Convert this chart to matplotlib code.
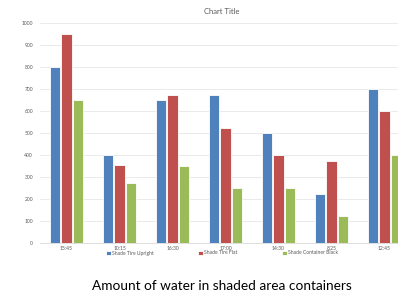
import matplotlib.pyplot as plt
import numpy as np

# data
times = ["15:45", "10:15", "16:30", "17:00", "14:30", "8:25", "12:45"]
tire_upright = [800, 400, 650, 675, 500, 225, 700]
tire_flat = [950, 355, 675, 525, 400, 375, 600]
container_black = [650, 275, 350, 250, 250, 125, 400]

series = ["Shade Tire Upright", "Shade Tire Flat", "Shade Container Black"]
colors = ["#4F81BD", "#C0504D", "#9BBB59"]

plt.rcParams['font.family'] = ['Lato', 'DejaVu Sans']

fig = plt.figure(figsize=(3.98, 2.94), dpi=100)
ax = fig.add_axes([40/398, 1-243/294, 371/398, 220/294])

x = np.arange(len(times))
w = 0.19
off = 0.215
for i, vals in enumerate([tire_upright, tire_flat, container_black]):
    ax.bar(x + (i-1)*off, vals, width=w, color=colors[i],
           edgecolor='white', linewidth=0.6, label=series[i], zorder=3)

ax.set_xlim(-0.5, len(times)-0.5)
ax.set_ylim(0, 1000)
ax.set_yticks(range(0, 1001, 100))
ax.set_xticks(x)
ax.set_xticklabels(times)
ax.tick_params(axis='both', length=0, labelsize=3.6, colors='#595959')
ax.tick_params(axis='y', pad=5)
ax.tick_params(axis='x', pad=2.5)
ax.grid(axis='y', color='#E6E6E6', linewidth=0.6, zorder=0)
for s in ['top', 'right', 'left']:
    ax.spines[s].set_visible(False)
ax.spines['bottom'].set_color('#D9D9D9')
ax.spines['bottom'].set_linewidth(0.6)

fig.text(222/398, 1-12/294, "Chart Title", ha='center', va='center',
         fontsize=5.5, color='#595959')

leg = fig.legend(loc='center', bbox_to_anchor=(222/398, 1-253/294), ncol=3,
                 frameon=False, fontsize=3.6, handlelength=0.9, handleheight=0.9,
                 handletextpad=0.2, columnspacing=9)
for t in leg.get_texts():
    t.set_color('#595959')

fig.text(222/398, 1-286/294, "Amount of water in shaded area containers",
         ha='center', va='center', fontsize=9.8, color='black')

fig.savefig("out.png", dpi=100)
